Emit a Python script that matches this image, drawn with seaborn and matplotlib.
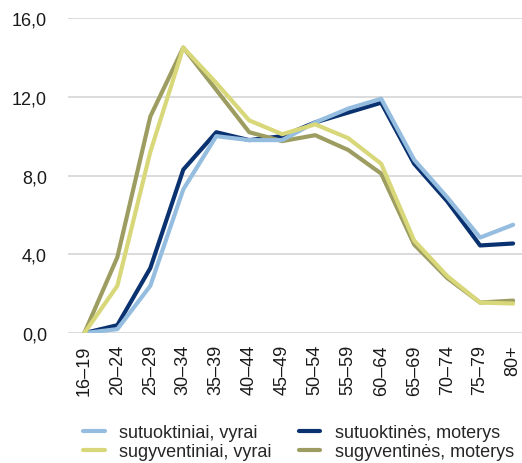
import matplotlib
matplotlib.use("Agg")
import matplotlib.pyplot as plt
import seaborn as sns
import pandas as pd

age_groups = ["16–19", "20–24", "25–29", "30–34", "35–39", "40–44", "45–49",
              "50–54", "55–59", "60–64", "65–69", "70–74", "75–79", "80+"]

married_men = [0.0, 0.2, 2.4, 7.3, 10.0, 9.8, 9.8, 10.7, 11.4, 11.9, 8.8, 6.9, 4.85, 5.5]
married_women = [0.0, 0.4, 3.3, 8.3, 10.2, 9.8, 10.0, 10.7, 11.2, 11.7, 8.6, 6.7, 4.45, 4.55]
cohabiting_men = [0.0, 2.4, 9.2, 14.5, 12.7, 10.8, 10.1, 10.6, 9.9, 8.6, 4.7, 2.9, 1.55, 1.5]
cohabiting_women = [0.0, 3.85, 11.0, 14.5, 12.35, 10.2, 9.75, 10.05, 9.3, 8.1, 4.5, 2.8, 1.55, 1.65]

colors = {
    "sutuoktiniai, vyrai": "#95bde0",
    "sutuoktinės, moterys": "#0b3270",
    "sugyventiniai, vyrai": "#d8d87a",
    "sugyventinės, moterys": "#9d9d62",
}
values = {
    "sutuoktiniai, vyrai": married_men,
    "sutuoktinės, moterys": married_women,
    "sugyventiniai, vyrai": cohabiting_men,
    "sugyventinės, moterys": cohabiting_women,
}

sns.set_theme(style="white")
plt.rcParams["font.family"] = ["Liberation Sans", "DejaVu Sans"]

fig = plt.figure(figsize=(5.22, 4.64), dpi=100)
ax = fig.add_axes([0.13, 0.28, 0.87, 0.679])

# draw darker lines underneath so the lighter ones sit on top
draw_order = ["sutuoktinės, moterys", "sugyventinės, moterys",
              "sutuoktiniai, vyrai", "sugyventiniai, vyrai"]
for name in draw_order:
    df = pd.DataFrame({"x": range(len(age_groups)), "y": values[name]})
    sns.lineplot(data=df, x="x", y="y", ax=ax, color=colors[name],
                 linewidth=3.0, label=name, legend=False)

ax.set_xlim(-0.5, 13.27)
ax.set_ylim(0, 16)
ax.set_yticks([0, 4, 8, 12, 16])
ax.set_yticklabels(["0,0", "4,0", "8,0", "12,0", "16,0"])
ax.set_xticks(range(len(age_groups)))
ax.set_xticklabels(age_groups, rotation=90)
ax.tick_params(axis="y", length=0, pad=15, labelsize=13, colors="#1a1a1a")
ax.tick_params(axis="x", length=0, pad=8, labelsize=13, colors="#1a1a1a")
ax.set_xlabel("")
ax.set_ylabel("")
ax.yaxis.grid(True, color="#d9d9d9", linewidth=1.3)
ax.set_axisbelow(True)
for s in ax.spines.values():
    s.set_visible(False)

handles = {h.get_label(): h for h in ax.get_lines() if not h.get_label().startswith("_")}
leg_order = ["sutuoktiniai, vyrai", "sugyventiniai, vyrai",
             "sutuoktinės, moterys", "sugyventinės, moterys"]
fig.legend([handles[n] for n in leg_order], leg_order, ncol=2,
           loc="center", bbox_to_anchor=(0.572, 0.045), frameon=False,
           fontsize=13, handlelength=1.2, handletextpad=0.8,
           columnspacing=1.5, labelspacing=0.1)

fig.savefig("out.png", dpi=100)
